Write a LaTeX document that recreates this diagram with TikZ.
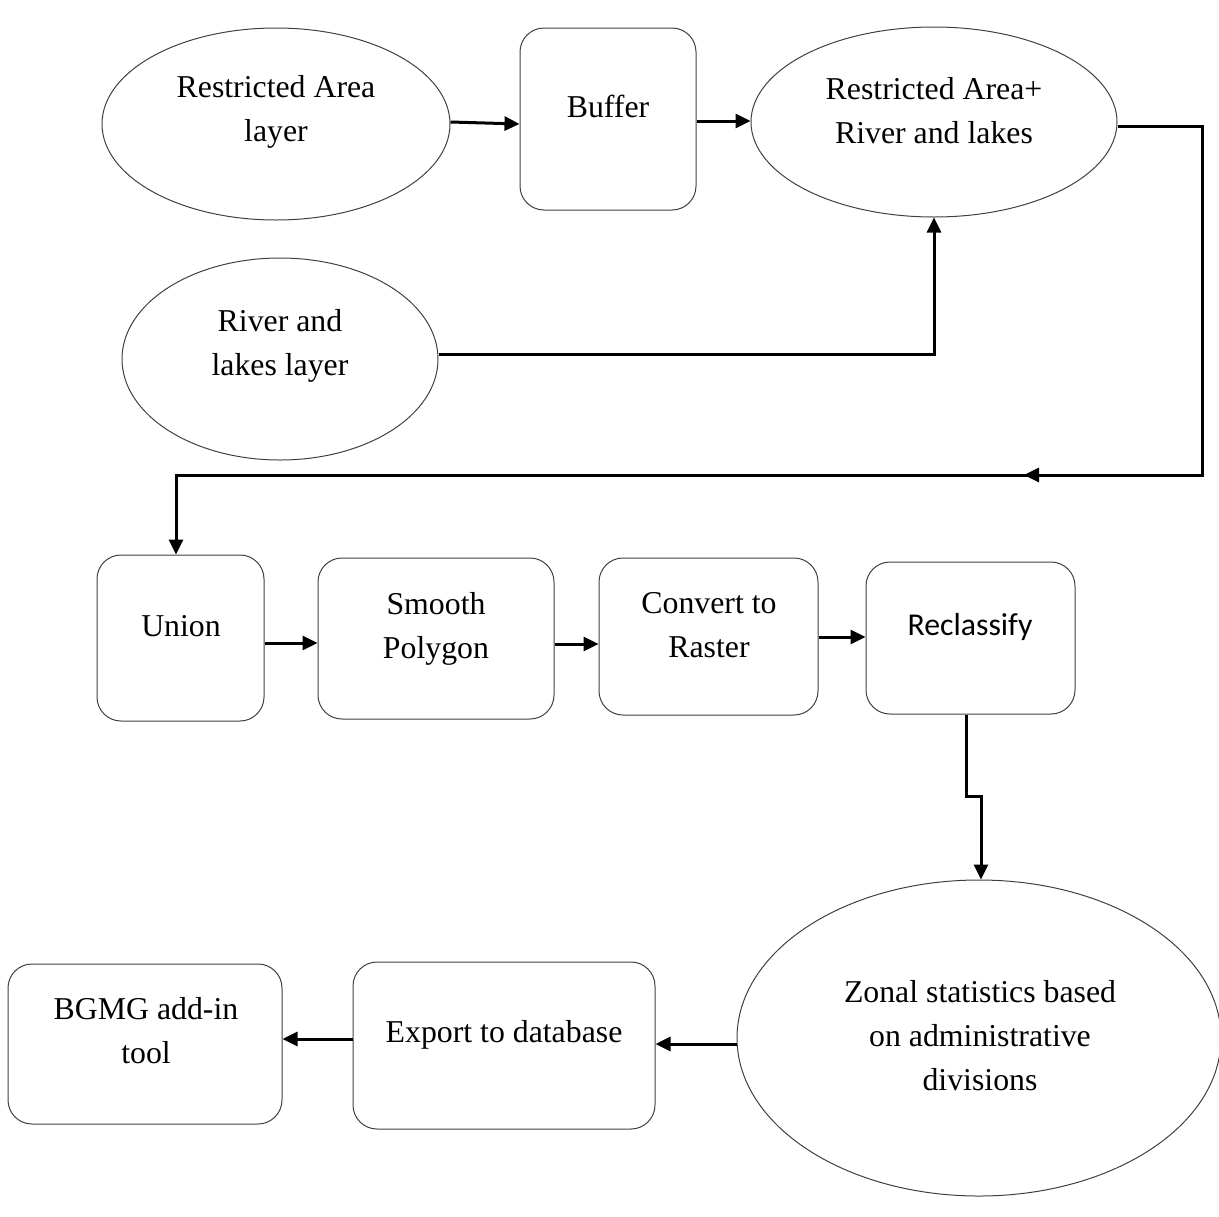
\documentclass[tikz,border=0pt]{standalone}
\usepackage{fontspec}
\setmainfont{Liberation Serif}
\newfontfamily\calibrifont{Carlito}
\usetikzlibrary{shapes.geometric,arrows.meta}
\begin{document}
\begin{tikzpicture}[x=0.5pt,y=-0.5pt,
  outline/.style={draw=black!75,line width=0.5pt},
  oval/.style={outline,ellipse,inner sep=0pt},
  stepbox/.style={outline,rectangle,rounded corners=12pt,inner sep=0pt},
  label/.style={font=\fontsize{15.9}{22}\selectfont,align=center,inner sep=0pt},
  arr/.style={line width=1.5pt,-{Triangle[length=7.5pt,width=7pt]}},
  link/.style={line width=1.5pt}]
\useasboundingbox (0,0) rectangle (1219,1216);

% shapes (sizes in pt, one pt = two drawing units)
\node[oval,minimum width=174pt,minimum height=96pt] (ra) at (276,124) {};
\node[stepbox,minimum width=88pt,minimum height=91pt] (buf) at (608,119) {};
\node[oval,minimum width=183pt,minimum height=95pt] (rarl) at (934,122) {};
\node[oval,minimum width=158pt,minimum height=101pt] (rl) at (280,359) {};
\node[stepbox,minimum width=83.5pt,minimum height=83pt] (un) at (180.5,638) {};
\node[stepbox,minimum width=118pt,minimum height=80.5pt] (sp) at (436,638.5) {};
\node[stepbox,minimum width=109.5pt,minimum height=78.5pt] (cr) at (708.5,636.5) {};
\node[stepbox,minimum width=104.5pt,minimum height=76pt] (rc) at (970.5,638) {};
\node[oval,minimum width=242pt,minimum height=158pt] (zs) at (979,1038) {};
\node[stepbox,minimum width=151pt,minimum height=83.5pt] (ex) at (504,1045.5) {};
\node[stepbox,minimum width=137pt,minimum height=80pt] (bg) at (145,1044) {};

% texts
\node[label] (rat) at (276,112) {Restricted Area\\layer};
\node[label] (buft) at (608,106) {Buffer};
\node[label] (rarlt) at (934,111) {Restricted Area+\\River and lakes};
\node[label] (rlt) at (280,346) {River and\\lakes layer};
\node[label] (unt) at (181,626) {Union};
\node[label] (spt) at (436,629) {Smooth\\Polygon};
\node[label] (crt) at (709,625) {Convert to\\Raster};
\node[label,font=\calibrifont\fontsize{15.9}{22}\selectfont] (rct) at (970,627) {Reclassify};
\node[label] (zst) at (980,1036) {Zonal statistics based\\on administrative\\divisions};
\node[label] (ext) at (504,1035) {Export to database};
\node[label] (bgt) at (146,1031) {BGMG add-in\\tool};

% connectors
\draw[arr] (ra.east |- 0,122) -- (buf.west |- 0,124);
\draw[arr] (buf.east |- 0,121) -- (rarl.west |- 0,121);
\draw[arr] (rl.east |- 0,354) -| (rarl.south);

\coordinate (r1) at (1202,126);
\coordinate (r2) at (1202,475);
\coordinate (m1) at (1078,475);
\coordinate (m2) at (1024,475);
\coordinate (l1) at (176,475);
\draw[link] (rarl.east |- r1) -- (r1) -- (r2) -- (m1);
\draw[arr] (m1) -- (m2);
\draw[arr] (m1) -- (l1) -- (l1 |- un.north);

\draw[arr] (un.east |- 0,643) -- (sp.west |- 0,643);
\draw[arr] (sp.east |- 0,644) -- (cr.west |- 0,644);
\draw[arr] (cr.east |- 0,637) -- (rc.west |- 0,637);

\coordinate (z1) at (966,796);
\coordinate (z2) at (981,796);
\draw[arr] (rc.south -| z1) -- (z1) -- (z2) -- (z2 |- zs.north);

\draw[arr] (zs.west |- 0,1044) -- (ex.east |- 0,1044);
\draw[arr] (ex.west |- 0,1039) -- (bg.east |- 0,1039);
\end{tikzpicture}
\end{document}
